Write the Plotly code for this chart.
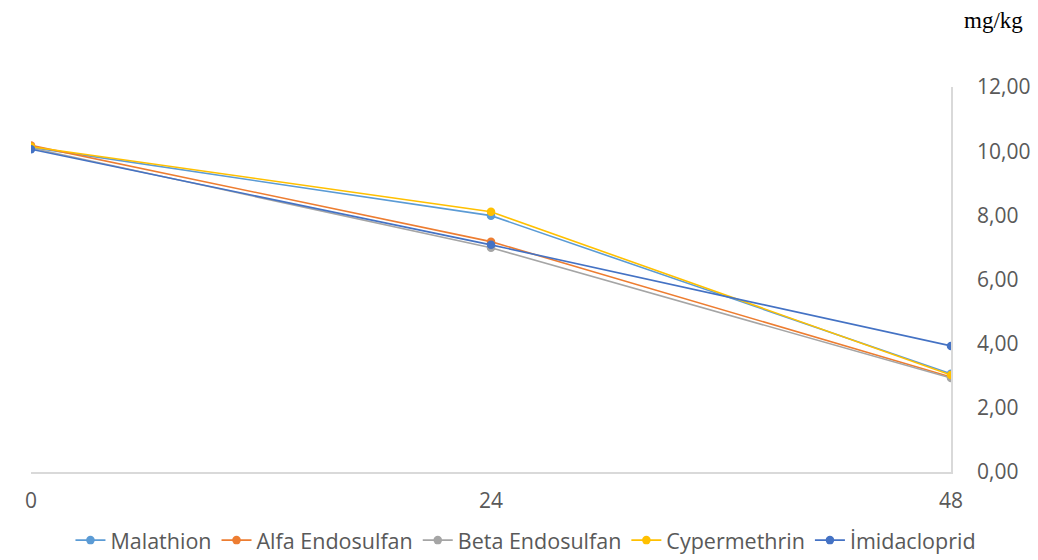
import plotly.graph_objects as go

hours = [0, 24, 48]
tick_labels = ["0", "24", "48"]
series_names = ["Malathion", "Alfa Endosulfan", "Beta Endosulfan", "Cypermethrin", "İmidacloprid"]
malathion = [10.12, 7.99, 3.06]
alfa_endosulfan = [10.18, 7.18, 2.96]
beta_endosulfan = [10.10, 6.99, 2.93]
cypermethrin = [10.14, 8.11, 3.02]
imidacloprid = [10.06, 7.08, 3.93]
y_ticks = [0, 2, 4, 6, 8, 10, 12]
y_tick_labels = ["0,00", "2,00", "4,00", "6,00", "8,00", "10,00", "12,00"]

values = [malathion, alfa_endosulfan, beta_endosulfan, cypermethrin, imidacloprid]
colors = ["#5B9BD5", "#ED7D31", "#A5A5A5", "#FFC000", "#4472C4"]

fig = go.Figure()
for name, vals, col in zip(series_names, values, colors):
    fig.add_trace(go.Scatter(
        x=hours, y=vals, name=name, mode="lines+markers",
        line=dict(color=col, width=1.6),
        marker=dict(color=col, size=8.5),
    ))

fig.update_layout(
    width=1038, height=560,
    margin=dict(l=31, r=87, t=87, b=88, autoexpand=False),
    paper_bgcolor="white", plot_bgcolor="white",
    font=dict(family="Open Sans, Liberation Sans, sans-serif", color="#595959", size=21),
    showlegend=True,
    legend=dict(orientation="h", x=0.538, xanchor="center", y=-0.177, yanchor="middle",
                font=dict(size=21.5, color="#595959"), itemwidth=30,
                tracegroupgap=0),
    xaxis=dict(
        range=[0, 48], tickmode="array", tickvals=hours, ticktext=tick_labels,
        showgrid=False, zeroline=False, showline=True, linecolor="#D9D9D9", linewidth=1.5,
        ticks="outside", ticklen=9, tickcolor="rgba(0,0,0,0)", automargin=False,
        tickfont=dict(size=21, color="#595959"),
    ),
    yaxis=dict(
        range=[0, 12], side="right", tickmode="array", tickvals=y_ticks, ticktext=y_tick_labels,
        showgrid=False, zeroline=False, showline=True, linecolor="#D9D9D9", linewidth=1.5,
        ticks="outside", ticklen=20, tickcolor="rgba(0,0,0,0)", automargin=False,
        tickfont=dict(size=21, color="#595959"),
    ),
    annotations=[dict(
        text="mg/kg", xref="paper", yref="paper", x=(993 - 31) / 920, y=1 + 67/385,
        xanchor="center", yanchor="middle", showarrow=False,
        font=dict(family="Liberation Serif, Times New Roman, serif", size=23, color="#000000"),
    )],
)

fig.write_html("out.html", config={"displayModeBar": False},
               post_script="document.body.style.margin='0';document.body.style.overflow='hidden';")
